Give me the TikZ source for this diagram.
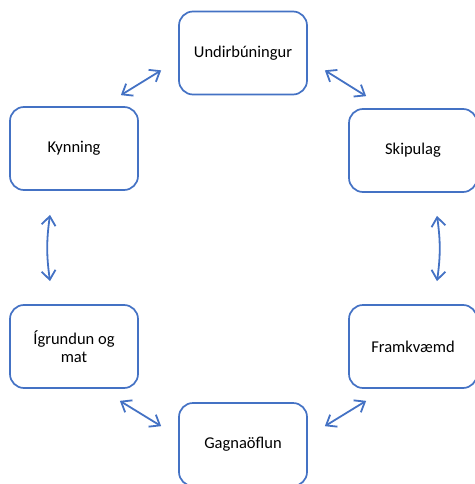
\documentclass[tikz,border=0pt]{standalone}
\usepackage{fontspec}
\setmainfont{Carlito}
\usepackage{tikz}
\usetikzlibrary{arrows.meta}
\usetikzlibrary{calc}
\definecolor{boxblue}{HTML}{4472C4}

\begin{document}
\begin{tikzpicture}[
  x=1pt, y=-1pt,
  dep/.style ={
    {Straight Barb[length=9pt,width=14pt]}-{Straight Barb[length=9pt,width=14pt]},
    draw=boxblue, line width=1.8pt
  },
  stage/.style={
    rectangle,
    draw=boxblue,
    line width=1.7pt,
    rounded corners=14pt,
    minimum width=128pt,
    minimum height=83pt,
    align=center,
    font=\fontsize{16.5}{18}\selectfont},
]
  \useasboundingbox (0,0) rectangle (474,484);

  % Stages
  \node[stage] (und) at (243, 53) {Undirbúningur};
  \node[stage] (kyn) at (74, 148.5) {Kynning};
  \node[stage] (ski) at (413, 150.5) {Skipulag};
  \node[stage] (igr) at (74, 346.5) {Ígrundun og\\mat};
  \node[stage] (fra) at (413, 346.5) {Framkvæmd};
  \node[stage] (gag) at (243, 444.5) {Gagnaöflun};

  % Links between stages
  \draw[dep] ($(kyn.north east)+(-18,-11)$) -- ($(und.south west)+(-17,-25)$);
  \draw[dep] ($(und.south east)+(17,-25)$) -- ($(ski.north west)+(18,-12)$);
  \draw[dep] ($(kyn.south)+(-24,24)$) to[bend right=8] ($(igr.north)+(-24,-23)$);
  \draw[dep] ($(ski.south)+(24,23)$) to[bend left=8] ($(fra.north)+(24,-23)$);
  \draw[dep] ($(igr.south east)+(-19,12)$) -- ($(gag.north west)+(-17,24)$);
  \draw[dep] ($(gag.north east)+(17,24)$) -- ($(fra.south west)+(18,12)$);

\end{tikzpicture}
\end{document}
